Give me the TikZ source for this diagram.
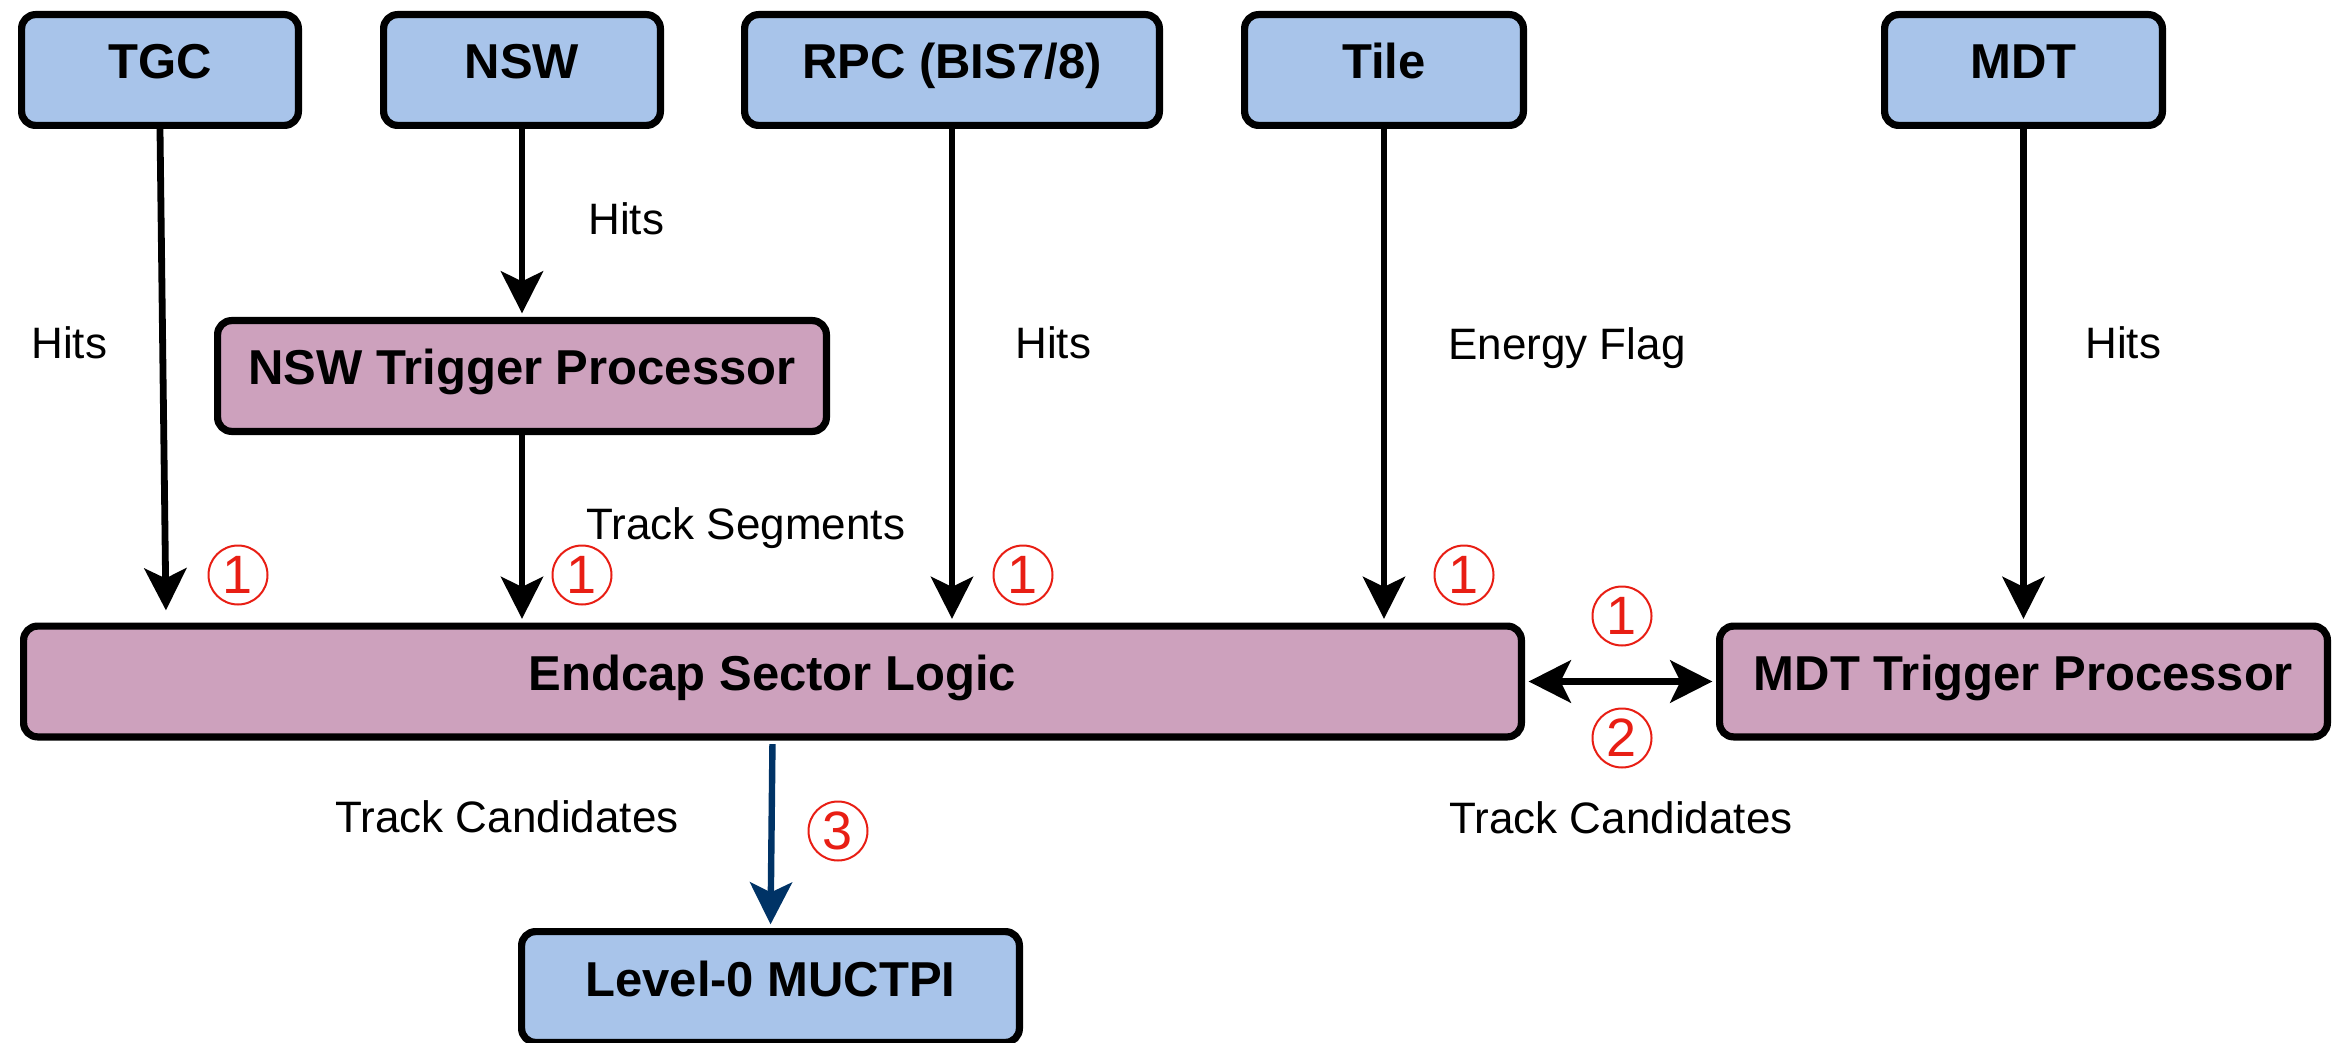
\documentclass[tikz,border=0pt]{standalone}
\usepackage{fontspec}
\setmainfont{Liberation Sans}
\usetikzlibrary{arrows.meta}
\definecolor{boxblue}{RGB}{168,196,234}
\definecolor{boxmauve}{RGB}{205,161,189}
\definecolor{numred}{RGB}{232,30,20}
\definecolor{navyarrow}{RGB}{0,51,102}
\begin{document}
\begin{tikzpicture}[x=0.5pt,y=-0.5pt,
  box/.style={draw=black, line width=3.6pt, rounded corners=7pt, inner sep=0pt,
    minimum height=55.4pt, text height=14pt, text depth=5pt,
    font=\fontsize{24.5}{28}\selectfont\bfseries},
  srcbox/.style={box, fill=boxblue},
  procbox/.style={box, fill=boxmauve},
  flow/.style={line width=3.4pt, -{Stealth[length=21pt,width=21pt,inset=5pt]}, shorten >=1.8pt},
  lbl/.style={font=\fontsize{22}{26}\selectfont, inner sep=0pt, anchor=base west},
  num/.style={circle, draw=numred, line width=1pt, text=numred, minimum size=29.5pt,
    inner sep=0pt, font=\fontsize{27}{30}\selectfont}
]
\useasboundingbox (0,0) rectangle (2336,1043);

% boxes
\node[srcbox, minimum width=138.4pt] (tgc) at (160,70) {TGC};
\node[srcbox, minimum width=138.4pt] (nsw) at (522,70) {NSW};
\node[srcbox, minimum width=207.4pt] (rpc) at (952,70) {RPC (BIS7/8)};
\node[srcbox, minimum width=139.4pt] (tile) at (1384,70) {Tile};
\node[srcbox, minimum width=138.9pt] (mdt) at (2023.5,70) {MDT};
\node[procbox, minimum width=304.4pt] (nswtp) at (522,376) {NSW Trigger Processor};
\node[procbox, minimum width=748.9pt] (esl) at (772.5,681.5) {Endcap Sector Logic};
\node[procbox, minimum width=303.9pt] (mdttp) at (2023.5,681.5) {MDT Trigger Processor};
\node[srcbox, minimum width=248.9pt] (muctpi) at (770.5,987) {Level-0 MUCTPI};

% connectors
\coordinate (tgcend) at (166,614);
\draw[flow] (tgc.south) -- (tgcend);
\draw[flow] (nsw.south) -- (nswtp.north);
\draw[flow] (nswtp.south) -- (nswtp.south |- esl.north);
\draw[flow] (rpc.south) -- (rpc.south |- esl.north);
\draw[flow] (tile.south) -- (tile.south |- esl.north);
\draw[flow] (mdt.south) -- (mdttp.north);
\draw[flow, line width=3.8pt, {Stealth[length=21pt,width=21pt,inset=5pt]}-{Stealth[length=21pt,width=21pt,inset=5pt]}, shorten <=1.8pt] (esl.east) -- (mdttp.west);
\draw[flow, navyarrow, line width=3.2pt, shorten <=1.8pt] (esl.south) -- (muctpi.north);

% labels
\node[lbl] (hitsnsw) at (588,235) {Hits};
\node[lbl] (hitstgc) at (31,358) {Hits};
\node[lbl] (hitsrpc) at (1015,358) {Hits};
\node[lbl] (energy) at (1448,359) {Energy Flag};
\node[lbl] (hitsmdt) at (2085,358) {Hits};
\node[lbl] (trkseg) at (586,539) {Track Segments};
\node[lbl] (tcl) at (335,832) {Track Candidates};
\node[lbl] (tcr) at (1449,833) {Track Candidates};

% circled step numbers
\node[num] (n1a) at (238,575) {1};
\node[num] (n1b) at (582,575) {1};
\node[num] (n1c) at (1023,575) {1};
\node[num] (n1d) at (1464,575) {1};
\node[num] (n1e) at (1622,616) {1};
\node[num] (n2) at (1622,738) {2};
\node[num] (n3) at (838,831) {3};
\end{tikzpicture}
\end{document}
